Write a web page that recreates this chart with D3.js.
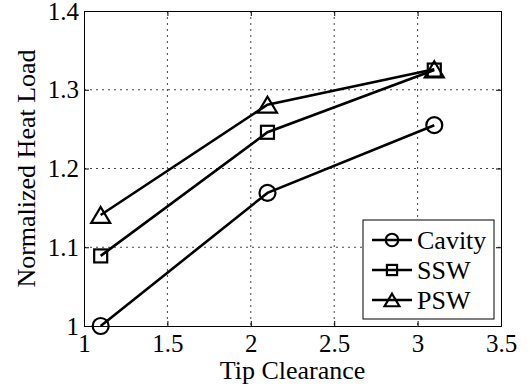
<!DOCTYPE html>
<html><head><meta charset="utf-8">
<script src="https://cdn.jsdelivr.net/npm/d3@7"></script>
<style>html,body{margin:0;padding:0;background:#fff;}svg{display:block;}</style>
</head><body>
<script>
const xValues = [1.1, 2.1, 3.1];
const cavity = [1.0, 1.169, 1.255];
const ssw = [1.089, 1.246, 1.325];
const psw = [1.141, 1.281, 1.326];
const seriesNames = ["Cavity", "SSW", "PSW"];
const xTicks = [1, 1.5, 2, 2.5, 3, 3.5];
const yTicks = [1, 1.1, 1.2, 1.3, 1.4];
const xLabel = "Tip Clearance";
const yLabel = "Normalized Heat Load";

const W = 530, H = 392;
const m = {l: 84, r: 501, t: 11, b: 326};
const FONT = "'Liberation Serif','Times New Roman',serif";

const svg = d3.select("body").append("svg").attr("width", W).attr("height", H);
const x = d3.scaleLinear().domain([1, 3.5]).range([m.l, m.r]);
const y = d3.scaleLinear().domain([1, 1.4]).range([m.b, m.t]);

// grid
const grid = svg.append("g");
grid.selectAll("line.gx").data(xTicks.slice(1, -1)).enter().append("line")
  .attr("x1", d => x(d)).attr("x2", d => x(d)).attr("y1", m.t).attr("y2", m.b)
  .attr("stroke", "#444").attr("stroke-width", 1).attr("stroke-dasharray", "2,4");
grid.selectAll("line.gy").data(yTicks.slice(1, -1)).enter().append("line")
  .attr("y1", d => y(d)).attr("y2", d => y(d)).attr("x1", m.l).attr("x2", m.r)
  .attr("stroke", "#444").attr("stroke-width", 1).attr("stroke-dasharray", "2,4");

// axes
const tl = 5;
const axB = svg.append("g").attr("transform", `translate(0,${m.b})`)
  .call(d3.axisBottom(x).tickValues(xTicks).tickSize(-tl).tickPadding(14).tickFormat(d3.format("")));
const axL = svg.append("g").attr("transform", `translate(${m.l},0)`)
  .call(d3.axisLeft(y).tickValues(yTicks).tickSize(-tl).tickPadding(5).tickFormat(d3.format("")));
const axT = svg.append("g").attr("transform", `translate(0,${m.t})`)
  .call(d3.axisTop(x).tickValues(xTicks).tickSize(-tl).tickFormat(""));
const axR = svg.append("g").attr("transform", `translate(${m.r},0)`)
  .call(d3.axisRight(y).tickValues(yTicks).tickSize(-tl).tickFormat(""));
[axB, axL, axT, axR].forEach(a => {
  a.select(".domain").attr("stroke", "#000").attr("stroke-width", 1);
  a.selectAll(".tick line").attr("stroke", "#000");
  a.selectAll("text").attr("font-family", FONT).attr("font-size", 25).attr("fill", "#000");
});
axB.selectAll("text").attr("dy", "0.71em");
axB.selectAll(".tick text").attr("y", 8);

// labels
svg.append("text").attr("x", (m.l + m.r) / 2).attr("y", 379).attr("text-anchor", "middle")
  .attr("font-family", FONT).attr("font-size", 26).text(xLabel);
svg.append("text").attr("transform", `translate(35,${(m.t + m.b) / 2}) rotate(-90)`)
  .attr("text-anchor", "middle").attr("font-family", FONT).attr("font-size", 26).text(yLabel);

// series
const series = [
  {name: seriesNames[0], vals: cavity, marker: "circle"},
  {name: seriesNames[1], vals: ssw, marker: "square"},
  {name: seriesNames[2], vals: psw, marker: "triangle"}
];
function drawMarker(g, type, cx, cy, s) {
  if (type === "circle") {
    g.append("circle").attr("cx", cx).attr("cy", cy).attr("r", 8 * s)
      .attr("fill", "none").attr("stroke", "#000").attr("stroke-width", 2.2);
  } else if (type === "square") {
    const h = 6.5 * s;
    g.append("rect").attr("x", cx - h).attr("y", cy - h).attr("width", 2 * h).attr("height", 2 * h)
      .attr("fill", "none").attr("stroke", "#000").attr("stroke-width", 2.2);
  } else {
    const w = 9.5 * s, hh = 8 * s;
    g.append("path").attr("d", `M${cx},${cy - hh}L${cx + w},${cy + hh}L${cx - w},${cy + hh}Z`)
      .attr("fill", "none").attr("stroke", "#000").attr("stroke-width", 2.2).attr("stroke-linejoin", "miter");
  }
}
const line = d3.line().x((d, i) => x(xValues[i])).y(d => y(d));
const sg = svg.append("g");
series.forEach(s => {
  sg.append("path").attr("d", line(s.vals)).attr("fill", "none")
    .attr("stroke", "#000").attr("stroke-width", 2.6);
  s.vals.forEach((v, i) => drawMarker(sg, s.marker, x(xValues[i]), y(v), 1));
});

// legend
const lg = svg.append("g");
lg.append("rect").attr("x", 363).attr("y", 220).attr("width", 131).attr("height", 99)
  .attr("fill", "#fff").attr("stroke", "#000").attr("stroke-width", 1);
series.forEach((s, i) => {
  const ly = 240 + i * 30;
  lg.append("line").attr("x1", 372).attr("x2", 412).attr("y1", ly).attr("y2", ly)
    .attr("stroke", "#000").attr("stroke-width", 2.6);
  drawMarker(lg, s.marker, 392, ly, 0.78);
  lg.append("text").attr("x", 417).attr("y", ly).attr("dy", "0.34em")
    .attr("font-family", FONT).attr("font-size", 26).text(s.name);
});
</script>
</body></html>
